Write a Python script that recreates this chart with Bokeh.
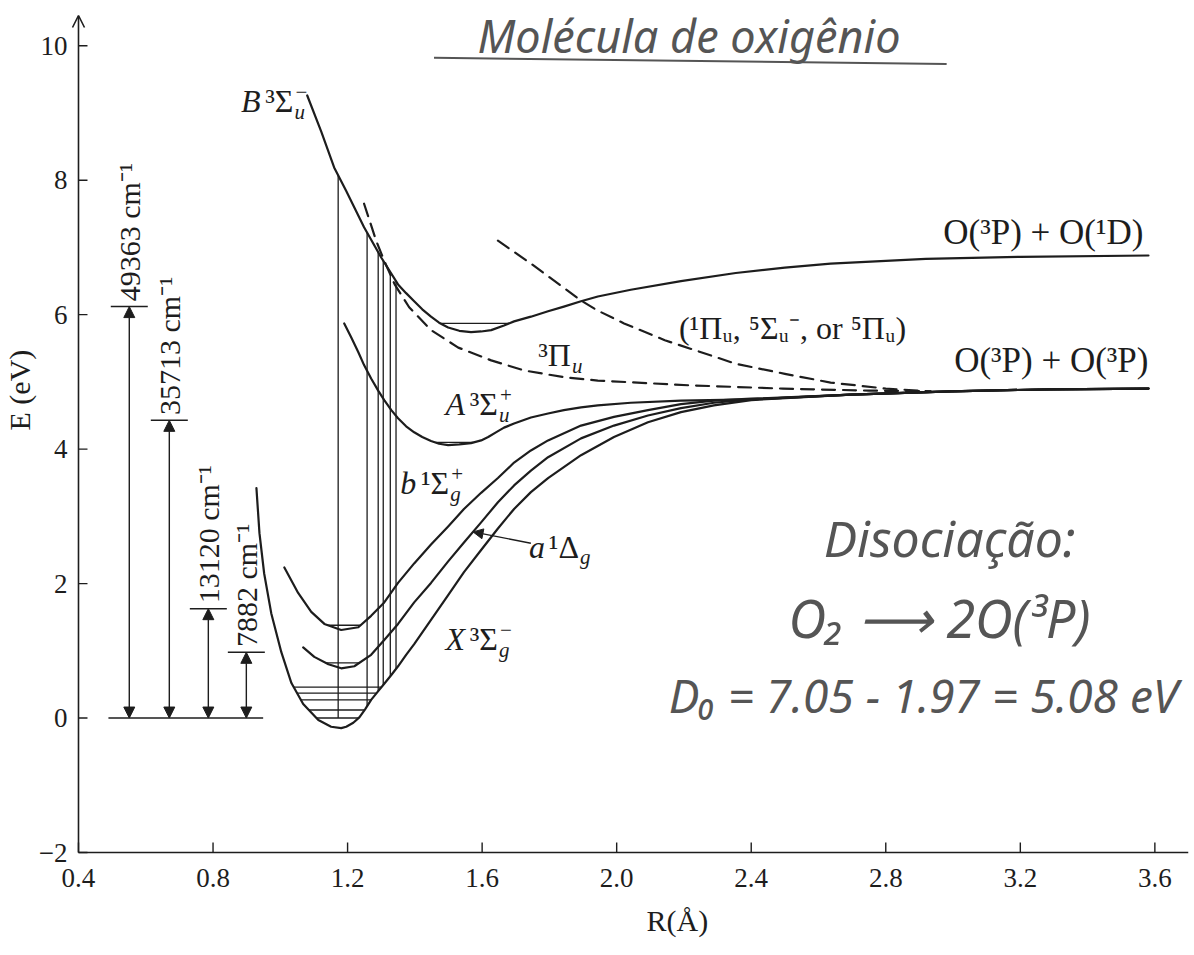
import math
import numpy as np
from bokeh.plotting import figure
from bokeh.models import (Range1d, FixedTicker, Arrow, NormalHead, OpenHead,
                          Title, ColumnDataSource)
from bokeh.core.properties import value
from bokeh.embed import file_html
from bokeh.resources import INLINE

# ---------------------------------------------------------------------------
# Potential-energy curves of O2: internuclear distance R (Å), energy E (eV)
# ---------------------------------------------------------------------------
# ground state X 3Sigma_g^-
X_R = [0.929, 0.938, 0.952, 0.973, 1.003, 1.033, 1.068, 1.113, 1.151, 1.181,
       1.196, 1.217, 1.235, 1.252, 1.270, 1.291, 1.309, 1.330, 1.350, 1.374,
       1.398, 1.448, 1.499, 1.546, 1.597, 1.647, 1.695, 1.745, 1.796, 1.894,
       1.992, 2.093, 2.191, 2.289, 2.400]
X_E = [3.42, 2.75, 2.15, 1.56, 0.98, 0.52, 0.21, -0.03, -0.13, -0.15,
       -0.13, -0.07, 0.01, 0.13, 0.27, 0.40, 0.51, 0.64, 0.77, 0.94,
       1.10, 1.46, 1.83, 2.17, 2.50, 2.82, 3.11, 3.36, 3.57, 3.91,
       4.18, 4.40, 4.55, 4.65, 4.73]

# a 1Delta_g
a_R = [1.068, 1.101, 1.143, 1.181, 1.220, 1.270, 1.309, 1.350, 1.398, 1.448,
       1.499, 1.546, 1.597, 1.647, 1.695, 1.745, 1.796, 1.894, 1.992, 2.093,
       2.191, 2.289, 2.400]
a_E = [1.05, 0.91, 0.80, 0.74, 0.77, 0.94, 1.16, 1.40, 1.72, 2.01,
       2.33, 2.61, 2.91, 3.21, 3.46, 3.68, 3.88, 4.16, 4.35, 4.50,
       4.61, 4.69, 4.74]

# b 1Sigma_g^+
b_R = [1.012, 1.053, 1.092, 1.131, 1.181, 1.232, 1.270, 1.309, 1.350, 1.398,
       1.448, 1.499, 1.546, 1.597, 1.647, 1.695, 1.745, 1.796, 1.894, 1.992,
       2.093, 2.191, 2.289, 2.400]
b_E = [2.24, 1.86, 1.58, 1.40, 1.31, 1.35, 1.52, 1.72, 2.01, 2.30,
       2.58, 2.85, 3.11, 3.35, 3.57, 3.80, 3.98, 4.13, 4.35, 4.48,
       4.58, 4.67, 4.72, 4.75]

# A 3Sigma_u^+
A_R = [1.190, 1.211, 1.232, 1.249, 1.270, 1.291, 1.309, 1.330, 1.350, 1.374,
       1.398, 1.422, 1.448, 1.472, 1.499, 1.532, 1.567, 1.597, 1.618, 1.641,
       1.665, 1.695, 1.745, 1.796, 1.843, 1.894, 1.944, 2.042, 2.191, 2.400]
A_E = [5.87, 5.66, 5.44, 5.25, 5.05, 4.87, 4.73, 4.58, 4.46, 4.34,
       4.25, 4.18, 4.12, 4.08, 4.06, 4.07, 4.09, 4.13, 4.18, 4.25,
       4.32, 4.38, 4.47, 4.53, 4.58, 4.62, 4.65, 4.69, 4.72, 4.74]

# common approach to the O(3P) + O(3P) limit
tail_R = [2.696, 2.993, 3.290, 3.581]
tail_E = [4.81, 4.86, 4.89, 4.90]

# B 3Sigma_u^-  (-> O(3P) + O(1D))
B_R = [1.080, 1.122, 1.160, 1.196, 1.249, 1.300, 1.350, 1.374, 1.398, 1.422,
       1.448, 1.472, 1.499, 1.532, 1.567, 1.597, 1.627, 1.665, 1.695, 1.745,
       1.796, 1.843, 1.894, 1.944, 2.042, 2.191, 2.354, 2.500, 2.636, 2.919,
       3.201, 3.581]
B_E = [9.26, 8.72, 8.19, 7.84, 7.30, 6.85, 6.45, 6.32, 6.20, 6.08,
       5.97, 5.88, 5.81, 5.76, 5.74, 5.75, 5.77, 5.84, 5.90, 5.97,
       6.05, 6.12, 6.20, 6.27, 6.37, 6.50, 6.62, 6.70, 6.76, 6.83,
       6.86, 6.88]

# repulsive 3Pi_u (dashed)
Pi3_R = [1.249, 1.285, 1.309, 1.340, 1.383, 1.448, 1.529, 1.627, 1.725, 1.843,
         1.944, 2.212, 2.494, 2.750, 2.933]
Pi3_E = [7.65, 7.10, 6.80, 6.45, 6.11, 5.77, 5.51, 5.32, 5.17, 5.07,
         5.02, 4.95, 4.90, 4.87, 4.86]

# repulsive (1Pi_u, 5Sigma_u^-, or 5Pi_u) (dashed)
Pi1_R = [1.647, 1.745, 1.843, 1.894, 1.944, 2.022, 2.143, 2.354, 2.500, 2.636,
         2.800, 2.933]
Pi1_E = [7.10, 6.76, 6.40, 6.21, 6.06, 5.87, 5.62, 5.27, 5.12, 4.99,
         4.90, 4.86]

# vibrational levels drawn inside the wells (eV)
X_levels = [0.0, 0.12, 0.27, 0.37, 0.46]
a_level = 0.82
b_level = 1.38
A_level = 4.10
B_level = 5.87

# vertical (Schumann-Runge) transitions X -> B, at these R (Å)
trans_R = [1.172, 1.258, 1.291, 1.306, 1.327, 1.344]

# term energies shown on the left, in cm^-1, and the R of each arrow
term_cm = [49363, 35713, 13120, 7882]
term_R = [0.551, 0.670, 0.786, 0.899]
CM_PER_EV = 8065.54

# axes: R from 0.4 Å, E from -2 eV; the energy axis ends in an arrow
R_MIN, R_MAX = 0.4, 3.70
E_MIN, E_AXIS_TOP = -2.0, 10.45
x_ticks = [0.4, 0.8, 1.2, 1.6, 2.0, 2.4, 2.8, 3.2, 3.6]
x_tick_labels = ["0.4", "0.8", "1.2", "1.6", "2.0", "2.4", "2.8", "3.2", "3.6"]
y_ticks = [-2, 0, 2, 4, 6, 8, 10]
y_tick_labels = ["\u22122", "0", "2", "4", "6", "8", "10"]

# ---------------------------------------------------------------------------
ink = "#1d1d1d"
pen = "#555555"
SERIF = "Liberation Serif"
HAND = "Noto Sans"

# a few pixels of room around the axes so the axis arrow is drawn whole
PX_PER_R = 336.67
PX_PER_E = 67.23
pad_l, pad_b = 7, 4
TICK_R = 9 / PX_PER_R      # inward tick length on the energy axis
TICK_E = 10 / PX_PER_E     # inward tick length on the R axis

p = figure(width=1194, height=955,
           x_range=Range1d(R_MIN - pad_l / PX_PER_R, R_MAX),
           y_range=Range1d(E_MIN - pad_b / PX_PER_E, 10.673),
           output_backend="svg", toolbar_location=None,
           min_border_left=77 - pad_l, min_border_right=6,
           min_border_top=0, min_border_bottom=103 - pad_b)
p.background_fill_color = "white"
p.border_fill_color = "white"
p.outline_line_color = None
p.grid.visible = False

# the built-in axes only carry the tick labels; lines and ticks are drawn below
for ax in (p.xaxis[0], p.yaxis[0]):
    ax.axis_line_color = None
    ax.major_tick_line_color = None
    ax.minor_tick_line_color = None
    ax.major_tick_out = 0
    ax.major_tick_in = 0
    ax.major_label_text_font = SERIF
    ax.major_label_text_font_size = "27px"
    ax.major_label_text_color = ink

p.xaxis[0].ticker = FixedTicker(ticks=x_ticks)
p.xaxis[0].major_label_overrides = dict(zip(x_ticks, x_tick_labels))
p.xaxis[0].major_label_standoff = 12
p.yaxis[0].ticker = FixedTicker(ticks=y_ticks)
p.yaxis[0].major_label_overrides = dict(zip(y_ticks, y_tick_labels))
p.yaxis[0].major_label_standoff = 4

# axis lines and inward ticks
p.segment(x0=[R_MIN], y0=[E_MIN], x1=[R_MAX], y1=[E_MIN], line_color=ink, line_width=1.6)
p.add_layout(Arrow(x_start=R_MIN, y_start=E_MIN, x_end=R_MIN, y_end=E_AXIS_TOP,
                   line_color=ink, line_width=1.6,
                   end=OpenHead(size=12, line_color=ink, line_width=1.6)))
p.segment(x0=[R_MIN] * len(y_ticks), y0=y_ticks,
          x1=[R_MIN + TICK_R] * len(y_ticks), y1=y_ticks, line_color=ink, line_width=1.4)
p.segment(x0=x_ticks, y0=[E_MIN] * len(x_ticks),
          x1=x_ticks, y1=[E_MIN + TICK_E] * len(x_ticks), line_color=ink, line_width=1.4)

# axis titles
p.add_layout(Title(text="E (eV)", align="left", offset=426, standoff=0,
                   text_font=SERIF, text_font_size="30px",
                   text_font_style="normal", text_color=ink), "left")
p.add_layout(Title(text="R(\u00c5)", align="left", offset=575, standoff=24,
                   text_font=SERIF, text_font_size="30px",
                   text_font_style="normal", text_color=ink), "below")


def curve(R, E, dash="solid", width=2.2):
    p.line(R, E, line_color=ink, line_width=width, line_dash=dash,
           line_join="round", line_cap="round")


curve(X_R + tail_R, X_E + tail_E)
curve(a_R + tail_R, a_E + tail_E)
curve(b_R + tail_R, b_E + tail_E)
curve(A_R + tail_R, A_E + tail_E)
curve(B_R, B_E)
curve(Pi3_R, Pi3_E, dash="13 8")
curve(Pi1_R, Pi1_E, dash="13 8")


def level_span(R, E, level):
    R = np.asarray(R, float)
    E = np.asarray(E, float)
    i = int(np.argmin(E))
    left = np.interp(level, E[:i + 1][::-1], R[:i + 1][::-1])
    right = np.interp(level, E[i:], R[i:])
    return float(left), float(right)


lv_x0, lv_x1, lv_y = [], [], []
for R, E, levels in ((X_R, X_E, X_levels), (a_R, a_E, [a_level]),
                     (b_R, b_E, [b_level]), (A_R, A_E, [A_level]),
                     (B_R, B_E, [B_level])):
    for lv in levels:
        l, r = level_span(R, E, lv)
        lv_x0.append(l)
        lv_x1.append(r)
        lv_y.append(lv)
p.segment(x0=lv_x0, y0=lv_y, x1=lv_x1, y1=lv_y, line_color=ink, line_width=1.4)

# vertical transitions from the ground-state well up to the B curve
iX = int(np.argmin(X_E))
t_low = np.maximum(np.interp(trans_R, X_R[iX:], X_E[iX:]), X_levels[0])
t_high = np.interp(trans_R, B_R, B_E)
p.segment(x0=trans_R, y0=list(t_low), x1=trans_R, y1=list(t_high),
          line_color=ink, line_width=1.3)

# term-energy arrows on the left
term_eV = [c / CM_PER_EV for c in term_cm]
cap = 0.055
p.segment(x0=[0.489], y0=[0.0], x1=[0.949], y1=[0.0], line_color=ink, line_width=1.5)
p.segment(x0=[r - cap for r in term_R], y0=term_eV,
          x1=[r + cap for r in term_R], y1=term_eV, line_color=ink, line_width=1.5)
arr_src = ColumnDataSource(dict(x=term_R, y0=[0.0] * len(term_R), y1=term_eV))
p.add_layout(Arrow(x_start="x", y_start="y0", x_end="x", y_end="y1", source=arr_src,
                   line_color=ink, line_width=1.4,
                   start=NormalHead(size=11, fill_color=ink, line_color=ink, line_width=1),
                   end=NormalHead(size=11, fill_color=ink, line_color=ink, line_width=1)))
p.text(x=term_R, y=[e + 0.08 for e in term_eV],
       text=[f"{c} cm\u207b\u00b9" for c in term_cm],
       angle=math.pi / 2, text_align="left", text_baseline="middle",
       text_font=value(SERIF), text_font_size="30px", text_color=ink)


def txt(x, y, s, size=32, align="left", style="normal", dx=0, dy=0,
        font=SERIF, color=ink):
    # (x, y) is the baseline point of the string
    p.text(x=[x], y=[y], text=[s], text_font=value(font),
           text_font_size=f"{size}px", text_align=align,
           text_baseline="middle", text_font_style=style,
           x_offset=dx, y_offset=dy - 0.36 * size, text_color=color)


def state_label(x, y, letter, core, core_w, sub, sup):
    txt(x, y, core, align="right")
    if letter:
        txt(x, y, letter, align="right", style="italic", dx=-(core_w + 4))
    txt(x, y, sub, size=21, style="italic", dx=1, dy=7)
    if sup:
        txt(x, y, sup, size=21, dx=2, dy=-13)


state_label(1.039, 9.00, "B", "\u00b3\u03a3", 29, "u", "\u2212")
state_label(1.647, 4.50, "A", "\u00b3\u03a3", 29, "u", "+")
state_label(1.502, 3.33, "b", "\u00b9\u03a3", 29, "g", "+")
state_label(1.888, 2.38, "a", "\u00b9\u0394", 30, "g", "")
state_label(1.647, 1.01, "X", "\u00b3\u03a3", 29, "g", "\u2212")
state_label(1.864, 5.23, "", "\u00b3\u03a0", 33, "u", "")

txt(2.185, 5.63, "(\u00b9\u03a0\u1d64, \u2075\u03a3\u1d64\u207b, or \u2075\u03a0\u1d64)", size=32)
txt(3.566, 7.03, "O(\u00b3P) + O(\u00b9D)", size=35, align="right")
txt(3.581, 5.13, "O(\u00b3P) + O(\u00b3P)", size=35, align="right")

# pointer to the a 1Delta_g curve
tip_R = 1.573
tip_E = float(np.interp(tip_R, a_R, a_E))
p.add_layout(Arrow(x_start=1.745, y_start=2.60, x_end=tip_R, y_end=tip_E,
                   line_color=ink, line_width=1.3,
                   end=NormalHead(size=10, fill_color=ink, line_color=ink, line_width=1)))

# handwritten notes
txt(2.215, 9.91, "Molécula de oxigênio", size=45, align="center",
    style="italic", font=HAND, color=pen)
p.segment(x0=[1.457], y0=[9.82], x1=[2.981], y1=[9.73], line_color=pen, line_width=2)
txt(2.990, 2.41, "Disociação:", size=50, align="center",
    style="italic", font=HAND, color=pen)
txt(2.960, 1.22, "O\u2082 \u27f6 2O(\u00b3P)", size=52, align="center",
    style="italic", font=HAND, color=pen)
txt(2.155, 0.09, "D\u2080 = 7.05 - 1.97 = 5.08 eV", size=46, align="left",
    style="italic", font=HAND, color=pen)

open("out.html", "w").write(file_html(p, INLINE, title="O2"))
